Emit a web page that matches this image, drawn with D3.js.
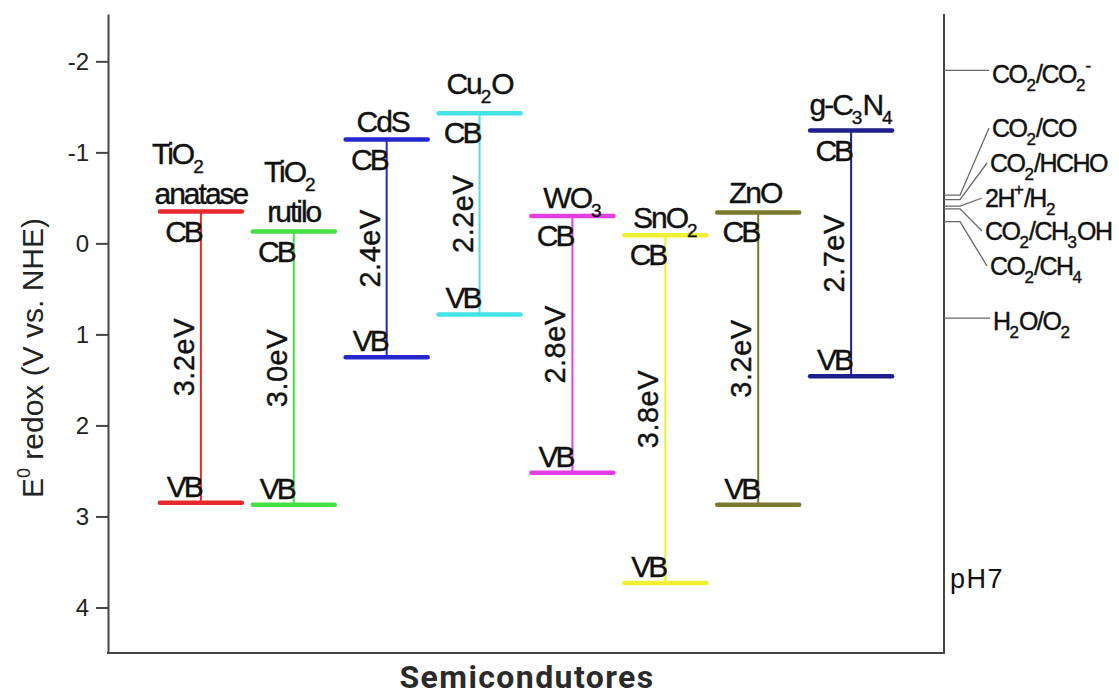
<!DOCTYPE html>
<html>
<head>
<meta charset="utf-8">
<script src="https://cdn.jsdelivr.net/npm/d3@7"></script>
<style>
  body { margin: 0; background: #fff; }
  svg { display: block; font-family: "Liberation Sans", Arial, sans-serif; }
  .rot { stroke: #111; stroke-width: 0.4; }
</style>
</head>
<body>
<svg id="chart" width="1119" height="697"></svg>
<script>
// dados do grafico (V vs. NHE)
const semicondutores = ['TiO2 anatase', 'TiO2 rutilo', 'CdS', 'Cu2O', 'WO3', 'SnO2', 'ZnO', 'g-C3N4'];
const nomes = [['TiO_2', 'anatase'], ['TiO_2', 'rutilo'], ['CdS'], ['Cu_2O'], ['WO_3'], ['SnO_2'], ['ZnO'], ['g-C_3N_4']];
const bandaConducao = [-0.35, -0.13, -1.14, -1.43, -0.30, -0.09, -0.34, -1.24];
const bandaValencia = [2.85, 2.87, 1.25, 0.78, 2.52, 3.73, 2.87, 1.46];
const gaps = ['3.2eV', '3.0eV', '2.4eV', '2.2eV', '2.8eV', '3.8eV', '3.2eV', '2.7eV'];

const paresRedox = ['CO_2/CO_2^-', 'CO_2/CO', 'CO_2/HCHO', '2H^+/H_2', 'CO_2/CH_3OH', 'CO_2/CH_4', 'H_2O/O_2'];
const potenciais = [-1.90, -0.53, -0.48, -0.41, -0.38, -0.24, 0.82];

const ticksY = [-2, -1, 0, 1, 2, 3, 4];

// estilos / layout
const cores = ['#e82a2e', '#44e044', '#2626cf', '#44e4e6', '#e23ee4', '#f0f032', '#7a7a2a', '#1e1e8c'];
const nomeBase = [-8, -10, -8, -19, -8, -7, -9, -16];   // baseline relativo a CB
const nomeDx = [-23, -4, -4, 0, 0, 0, -3, 0];           // deslocamento da 1a linha
const rotuloRedox = [
    { x: 992, y: 83 }, { x: 992, y: 137 }, { x: 990, y: 172 }, { x: 985, y: 207 },
    { x: 985, y: 240 }, { x: 990, y: 275 }, { x: 993, y: 330 }
];

const svg = d3.select('#chart');

const margem = { left: 108, right: 944, top: 14, bottom: 653 };

const y = d3.scaleLinear().domain([-2.52, 4.5]).range([margem.top, margem.bottom]);
const x = d3.scalePoint().domain(semicondutores).range([margem.left, margem.right]).padding(1);
const meia = 41;

// separa texto em partes normais, subscritas (_) e sobrescritas (^)
function tokens(str) {
    const out = [];
    let i = 0;
    while (i < str.length) {
        const c = str[i];
        if ((c === '_' || c === '^') && i + 1 < str.length) {
            out.push({ t: str[i + 1], k: c });
            i += 2;
        } else {
            if (out.length && out[out.length - 1].k === '') out[out.length - 1].t += c;
            else out.push({ t: c, k: '' });
            i++;
        }
    }
    return out;
}

function richText(sel, str, subSize, subDy, supDy) {
    let shift = 0;
    tokens(str).forEach(tk => {
        const target = tk.k === '_' ? subDy : tk.k === '^' ? supDy : 0;
        const ts = sel.append('tspan').attr('dy', target - shift).text(tk.t);
        if (tk.k) ts.attr('font-size', subSize).attr('letter-spacing', 0);
        shift = target;
    });
}

// eixo Y
const eixoY = d3.axisLeft(y)
    .tickValues(ticksY)
    .tickSize(12)
    .tickPadding(7)
    .tickSizeOuter(0)
    .tickFormat(d => String(d));

const gY = svg.append('g')
    .attr('transform', `translate(${margem.left},0)`)
    .call(eixoY);
gY.select('.domain').attr('stroke', '#444').attr('stroke-width', 2);
gY.selectAll('.tick line').attr('stroke', '#444').attr('stroke-width', 2);
gY.selectAll('.tick text')
    .attr('fill', '#222')
    .attr('font-size', 24)
    .attr('font-family', '"Liberation Sans", Arial, sans-serif');

// moldura inferior e direita
svg.append('path')
    .attr('d', `M${margem.left - 1},${margem.bottom} H${margem.right} V${margem.top}`)
    .attr('fill', 'none')
    .attr('stroke', '#444')
    .attr('stroke-width', 2);

// titulo do eixo Y
const tituloY = svg.append('text')
    .attr('transform', 'translate(43,358) rotate(-90)')
    .attr('text-anchor', 'middle')
    .attr('font-size', 30)
    .attr('fill', '#222');
richText(tituloY, 'E^0 redox (V vs. NHE)', 18, 10, -13);

// titulo do eixo X
svg.append('text')
    .attr('x', (margem.left + margem.right) / 2 + 1)
    .attr('y', 688)
    .attr('text-anchor', 'middle')
    .attr('font-family', 'Roboto, sans-serif')
    .attr('font-weight', 'bold')
    .attr('font-size', 32)
    .attr('letter-spacing', 1.4)
    .attr('fill', '#2a2a2a')
    .text('Semicondutores');

// bandas de cada semicondutor
semicondutores.forEach((s, i) => {
    const cx = x(s);
    const yCB = y(bandaConducao[i]);
    const yVB = y(bandaValencia[i]);
    const cor = cores[i];

    // linha vertical (gap)
    svg.append('line')
        .attr('x1', cx).attr('x2', cx)
        .attr('y1', yCB).attr('y2', yVB)
        .attr('stroke', cor)
        .attr('stroke-width', 2);

    // CB e VB
    [yCB, yVB].forEach(yy => {
        svg.append('line')
            .attr('x1', cx - meia).attr('x2', cx + meia)
            .attr('y1', yy).attr('y2', yy)
            .attr('stroke', cor)
            .attr('stroke-width', 4.5)
            .attr('stroke-linecap', 'round');
    });

    svg.append('text')
        .attr('class', 'rot')
        .attr('x', cx)
        .attr('y', yCB + 30)
        .attr('text-anchor', 'end')
        .attr('font-size', 30)
        .attr('letter-spacing', -3)
        .attr('fill', '#111')
        .text('CB');

    svg.append('text')
        .attr('class', 'rot')
        .attr('x', cx)
        .attr('y', yVB - 6)
        .attr('text-anchor', 'end')
        .attr('font-size', 30)
        .attr('letter-spacing', -3)
        .attr('fill', '#111')
        .text('VB');

    // energia do gap (rotacionada)
    svg.append('text')
        .attr('class', 'rot')
        .attr('transform', `translate(${cx - 7},${(yCB + yVB) / 2}) rotate(-90)`)
        .attr('text-anchor', 'middle')
        .attr('font-size', 29)
        .attr('letter-spacing', 0.5)
        .attr('fill', '#111')
        .text(gaps[i]);

    // nome do semicondutor
    const linhas = nomes[i];
    const base = yCB + nomeBase[i];
    linhas.forEach((ln, j) => {
        const t = svg.append('text')
            .attr('class', 'rot')
            .attr('x', cx + (j === 0 ? nomeDx[i] : 0))
            .attr('y', base - (linhas.length - 1 - j) * 40)
            .attr('text-anchor', 'middle')
            .attr('font-size', 30)
            .attr('letter-spacing', -2)
            .attr('fill', '#111');
        richText(t, ln, 19, 9, -12);
    });
});

// potenciais redox a direita
paresRedox.forEach((p, i) => {
    const yv = y(potenciais[i]);
    const r = rotuloRedox[i];
    const capC = r.y - 9;
    const reto = Math.abs(capC - yv) < 8;

    svg.append('path')
        .attr('d', reto
            ? `M${margem.right},${yv} H${r.x - 3}`
            : `M${margem.right},${yv} H${margem.right + 16} L${r.x - 3},${capC}`)
        .attr('fill', 'none')
        .attr('stroke', '#666')
        .attr('stroke-width', 1.3);

    const t = svg.append('text')
        .attr('class', 'rot')
        .attr('x', r.x)
        .attr('y', r.y)
        .attr('font-size', 25)
        .attr('letter-spacing', -1.5)
        .attr('fill', '#111');
    richText(t, p, 17, 8, -12);
});

// pH 7
svg.append('text')
    .attr('x', 950)
    .attr('y', 588)
    .attr('font-size', 27)
    .attr('letter-spacing', 1.5)
    .attr('fill', '#111')
    .text('pH7');
</script>
</body>
</html>
